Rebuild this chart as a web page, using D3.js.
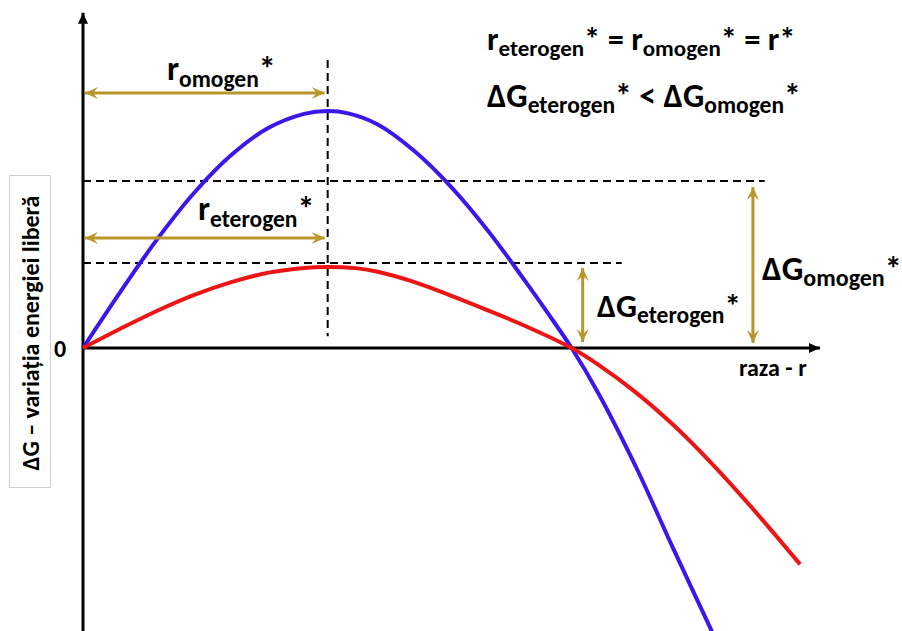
<!DOCTYPE html>
<html>
<head>
<meta charset="utf-8">
<script src="https://cdn.jsdelivr.net/npm/d3@7"></script>
<style>
  html, body { margin: 0; padding: 0; background: #fff; }
  svg { display: block; }
  text { font-family: Carlito, Calibri, Lato, "Open Sans", sans-serif; font-weight: bold; fill: #000; }
</style>
</head>
<body>
<svg id="chart" width="902" height="631"></svg>
<script>
// ---- data (r in arbitrary units 0..100, ΔG in units where omogen peak = 100) ----
const rOmogen = [0, 5, 10, 15, 20, 25, 30, 33.2, 36, 40, 45, 50, 55, 60, 63, 66.3, 70, 75, 80, 86];
const dGOmogen = [0, 23.4, 45.6, 65.2, 81.1, 92.6, 98.8, 100, 99.0, 94.3, 83.0, 67.8, 49.3, 28.2, 15.0, 0, -19.5, -50, -84, -124];
const rEterogen = [0, 5, 10, 15, 20, 25, 30, 33.2, 37, 40, 45, 50, 55, 60, 66.3, 70, 75, 80, 85, 90, 97.3];
const dGEterogen = [0, 8.0, 15.6, 22.3, 27.7, 31.7, 33.8, 34.2, 33.7, 32.2, 27.8, 22.0, 15.8, 9.3, 0, -7.2, -18.7, -32.2, -47.7, -64.7, -91.3];
const rStar = 33.2;
const dashLevels = [70.5, 35.9];          // horizontal dashed reference levels
const dashEnds = [92.5, 73.1];            // r where each dashed line ends
const arrowRows = [107.6, 46.4];          // ΔG level of the r* double arrows
const dGArrowR = [67.8, 90.9];            // r position of vertical ΔG* arrows
const dGArrowTop = [33.8, 67.9];
const dGArrowBottom = [2.5, 2.1];

const svg = d3.select("#chart");
const x = d3.scaleLinear().domain([0, 100]).range([83, 820]);
const y = d3.scaleLinear().domain([0, 100]).range([348, 111]);

const gold = "#b8962a";
const defs = svg.append("defs");
defs.append("marker").attr("id", "goldHead").attr("viewBox", "-14 -7 15 14")
  .attr("refX", 0).attr("refY", 0).attr("markerWidth", 15).attr("markerHeight", 14)
  .attr("markerUnits", "userSpaceOnUse").attr("orient", "auto-start-reverse")
  .append("path").attr("d", "M0,0 L-13,-6 L-8,0 L-13,6 Z").attr("fill", gold);
defs.append("marker").attr("id", "axHead").attr("viewBox", "-12 -6 13 12")
  .attr("refX", 0).attr("refY", 0).attr("markerWidth", 13).attr("markerHeight", 12)
  .attr("markerUnits", "userSpaceOnUse").attr("orient", "auto")
  .append("path").attr("d", "M0,0 L-11,-5 L-11,5 Z").attr("fill", "#000");

// dashed reference lines
const dashG = svg.append("g").attr("stroke", "#000").attr("stroke-width", 2).attr("stroke-dasharray", "8,5");
dashLevels.forEach((lv, i) => {
  dashG.append("line").attr("x1", x(0)).attr("x2", x(dashEnds[i])).attr("y1", y(lv)).attr("y2", y(lv));
});
dashG.append("line").attr("x1", x(rStar)).attr("x2", x(rStar)).attr("y1", y(121.5)).attr("y2", y(5));

// axes
svg.append("line").attr("x1", x(0)).attr("x2", x(0)).attr("y1", y(-121)).attr("y2", y(141.5))
  .attr("stroke", "#000").attr("stroke-width", 3).attr("marker-end", "url(#axHead)");
svg.append("line").attr("x1", x(0)).attr("x2", x(100)).attr("y1", y(0)).attr("y2", y(0))
  .attr("stroke", "#000").attr("stroke-width", 3).attr("marker-end", "url(#axHead)");

// curves
const line = d3.line().x(d => x(d[0])).y(d => y(d[1])).curve(d3.curveCatmullRom.alpha(0.5));
svg.append("path").datum(rOmogen.map((r, i) => [r, dGOmogen[i]]))
  .attr("d", line).attr("fill", "none").attr("stroke", "#3a18ec").attr("stroke-width", 4);
svg.append("path").datum(rEterogen.map((r, i) => [r, dGEterogen[i]]))
  .attr("d", line).attr("fill", "none").attr("stroke", "#ec1414").attr("stroke-width", 4);

// gold double arrows
const arrowG = svg.append("g").attr("stroke", gold).attr("stroke-width", 3)
  .attr("marker-start", "url(#goldHead)").attr("marker-end", "url(#goldHead)");
arrowRows.forEach(lv => {
  arrowG.append("line").attr("x1", x(0) + 2).attr("x2", x(rStar) - 3).attr("y1", y(lv)).attr("y2", y(lv));
});
dGArrowR.forEach((r, i) => {
  arrowG.append("line").attr("x1", x(r)).attr("x2", x(r)).attr("y1", y(dGArrowTop[i])).attr("y2", y(dGArrowBottom[i]));
});

// labels with subscripts
function label(px, py, parts, base, sub, shift) {
  const t = svg.append("text").attr("x", px).attr("y", py).style("font-size", base + "px");
  let shifted = false;
  parts.forEach(p => {
    const ts = t.append("tspan").text(p.t);
    if (p.sub) {
      ts.style("font-size", sub + "px");
      if (!shifted) { ts.attr("dy", shift); shifted = true; }
    } else {
      ts.style("font-size", base + "px");
      if (shifted) { ts.attr("dy", -shift); shifted = false; }
    }
  });
  return t;
}
label(487, 50, [{t:"r"},{t:"eterogen",sub:true},{t:"* = r"},{t:"omogen",sub:true},{t:"* = r*"}], 32.5, 23, 6);
label(487, 107, [{t:"ΔG"},{t:"eterogen",sub:true},{t:"* < ΔG"},{t:"omogen",sub:true},{t:"*"}], 33.5, 23.5, 6);
label(167, 80, [{t:"r"},{t:"omogen",sub:true},{t:"*"}], 34, 23.5, 7);
label(198, 220, [{t:"r"},{t:"eterogen",sub:true},{t:"*"}], 34, 23.5, 7);
label(597, 317, [{t:"ΔG"},{t:"eterogen",sub:true},{t:"*"}], 33, 23.5, 6);
label(762, 280, [{t:"ΔG"},{t:"omogen",sub:true},{t:"*"}], 34, 24, 6);

svg.append("text").attr("x", 739).attr("y", 376).style("font-size", "24px").text("raza - r");
svg.append("text").attr("x", 54).attr("y", 357).style("font-size", "24px").text("0");

// y-axis title box
svg.append("rect").attr("x", 9.5).attr("y", 175.5).attr("width", 41).attr("height", 312)
  .attr("fill", "#fff").attr("stroke", "#d0d0d0").attr("stroke-width", 1);
svg.append("text").attr("transform", "translate(39,333) rotate(-90)")
  .attr("text-anchor", "middle").style("font-size", "24px").text("ΔG – variația energiei liberă");
</script>
</body>
</html>
